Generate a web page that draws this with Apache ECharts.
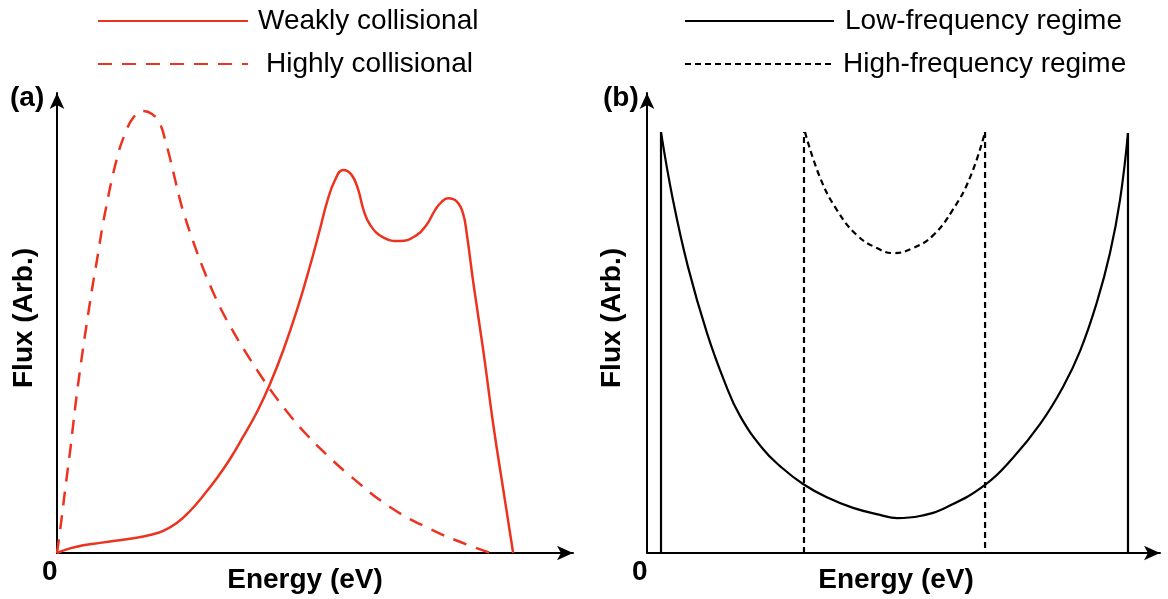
<!DOCTYPE html>
<html><head><meta charset="utf-8">
<script src="https://cdn.jsdelivr.net/npm/echarts@6/dist/echarts.min.js"></script>
<style>html,body{margin:0;padding:0;background:#fff}#c{width:1168px;height:599px}</style>
</head><body><div id="c"></div>
<script>
const FONT = '"Liberation Sans", Arial, Helvetica, sans-serif';
const RED = '#ec3320';

// Panel (a): energy (arb. units) vs flux (arb. units)
const weaklyCollisional = [[0,0],[2.5,1.0],[5.1,1.7],[8.3,2.2],[11.6,2.7],[14.8,3.2],[18.0,3.9],[20.6,4.8],[23.2,6.5],[25.78,9.13],[28.29,12.39],[31.01,16.30],[33.53,20.43],[36.05,25.22],[38.76,30.65],[41.28,36.74],[43.80,43.91],[46.51,52.83],[49.03,62.39],[50.97,70.43],[52.33,76.30],[53.88,81.09],[55.43,83.26],[57.1,82.2],[58.4,78.9],[59.4,74.6],[60.7,71.3],[63.2,68.6],[66.5,67.8],[69.7,69.1],[71.6,71.3],[73.3,74.6],[74.6,76.4],[75.8,77.1],[77.5,76.4],[78.7,73.8],[79.4,69.5],[80.7,58.6],[82.6,44.1],[84.6,27.5],[86.5,13.7],[88.4,0]];
const highlyCollisional = [[0,0],[0.78,6.52],[1.74,15.22],[2.52,21.96],[4.07,36.52],[6.40,54.57],[7.75,63.70],[9.30,73.91],[11.63,85.87],[13.18,91.09],[14.73,94.57],[16.67,96.09],[18.41,95.43],[19.96,93.26],[21.12,89.09],[21.90,85.83],[22.87,81.26],[23.64,77.61],[24.61,73.70],[26.36,67.83],[28.29,61.96],[30.23,56.74],[32.17,52.17],[34.50,47.48],[36.82,43.17],[39.34,38.80],[41.86,34.70],[45.16,29.89],[48.45,25.65],[52.33,21.30],[56.78,16.80],[64.53,10.00],[72.29,5.22],[78.68,2.17],[84.0,0]];

// Panel (b)
const lowFreqCurve = [[2.73,91.5],[5.07,76.7],[7.99,62.2],[11.70,47.8],[15.20,37.0],[18.13,29.8],[22.61,22.6],[25.93,18.9],[30.41,15.0],[35.28,12.0],[40.16,9.8],[45.42,8.3],[48.73,7.6],[53.22,8.04],[58.48,10.0],[65.89,14.8],[71.35,20.7],[76.61,28.0],[81.09,36.1],[84.41,43.9],[87.72,54.6],[90.25,65.2],[92.20,76.7],[93.76,91.3]];
const lowFreqLeftEdge = [[2.73,0],[2.73,91.5]];
const lowFreqRightEdge = [[93.76,91.3],[93.76,0]];
const highFreqCurve = [[30.8,91.5],[33.7,81.7],[37.0,74.6],[40.9,69.1],[44.8,66.3],[48.0,65.2],[51.9,66.3],[55.8,69.1],[59.6,74.6],[63.0,81.7],[65.9,91.5]];
const highFreqLeftEdge = [[30.6,0],[30.6,91.5]];
const highFreqRightEdge = [[65.9,91.5],[65.9,0]];

const X_MAX = 100, Y_MAX = 100;

function axisLine(){
  return {show:true, onZero:false, symbol:['none','arrow'], symbolSize:[11,16],
    lineStyle:{color:'#000', width:2}};
}
function xAx(gi, pad){
  return {type:'value', gridIndex:gi, min:0, max:X_MAX, axisLine:axisLine(), axisTick:{show:false},
    axisLabel:{show:false}, splitLine:{show:false},
    name:'Energy (eV)', nameLocation:'middle', nameGap:13,
    nameTextStyle:{fontFamily:FONT, fontSize:28, fontWeight:'bold', color:'#000', padding:pad}};
}
function yAx(gi, gap){
  return {type:'value', gridIndex:gi, min:0, max:Y_MAX, axisLine:axisLine(), axisTick:{show:false},
    axisLabel:{show:false}, splitLine:{show:false},
    name:'Flux (Arb.)', nameLocation:'middle', nameGap:gap, nameRotate:90,
    nameTextStyle:{fontFamily:FONT, fontSize:28, fontWeight:'bold', color:'#000', padding:[0,0,0,10]}};
}
function line(name, data, xi, color, width, type, smooth){
  return {name:name, type:'line', xAxisIndex:xi, yAxisIndex:xi, data:data, symbol:'none', showSymbol:false,
    smooth:smooth, lineStyle:{color:color, width:width, type:type}, itemStyle:{color:color}, silent:true};
}
function legend(left, w, items){
  return {left:left, top:7, padding:0, orient:'vertical', itemWidth:w, itemHeight:28, itemGap:15,
    itemStyle:{opacity:0}, textStyle:{fontFamily:FONT, fontSize:28, color:'#000'}, data:items};
}

const chart = echarts.init(document.getElementById('c'), null, {renderer:'canvas'});
chart.setOption({
  animation:false,
  backgroundColor:'#fff',
  grid:[
    {left:57, top:93, width:516, height:460, containLabel:false, outerBoundsMode:'none'},
    {left:647, top:93, width:513, height:460, containLabel:false, outerBoundsMode:'none'}
  ],
  xAxis:[xAx(0,[0,20,0,0]), xAx(1,[0,15,0,0])],
  yAxis:[yAx(0,19), yAx(1,21)],
  legend:[
    legend(97, 150, [{name:'Weakly collisional', textStyle:{padding:[0,0,0,5]}},
                     {name:'Highly collisional', textStyle:{padding:[0,0,0,13]}}]),
    legend(684, 149, [{name:'Low-frequency regime', textStyle:{padding:[0,0,0,6]}},
                      {name:'High-frequency regime', textStyle:{padding:[0,0,0,4]}}])
  ],
  series:[
    line('Weakly collisional', weaklyCollisional, 0, RED, 2.5, 'solid', 0.45),
    line('Highly collisional', highlyCollisional, 0, RED, 2.5, [14,10], 0.45),
    line('Low-frequency regime', lowFreqCurve, 1, '#000', 2.2, 'solid', 0.45),
    line('lf-left', lowFreqLeftEdge, 1, '#000', 2.2, 'solid', false),
    line('lf-right', lowFreqRightEdge, 1, '#000', 2.2, 'solid', false),
    line('High-frequency regime', highFreqCurve, 1, '#000', 2.2, [6,4], 0.45),
    line('hf-left', highFreqLeftEdge, 1, '#000', 2.2, [6,4], false),
    line('hf-right', highFreqRightEdge, 1, '#000', 2.2, [6,4], false)
  ],
  graphic:[
    {type:'text', left:10, top:84, style:{text:'(a)', font:'bold 28px '+FONT, fill:'#000'}},
    {type:'text', left:603, top:84, style:{text:'(b)', font:'bold 28px '+FONT, fill:'#000'}},
    {type:'text', left:42, top:558, style:{text:'0', font:'bold 28px '+FONT, fill:'#000'}},
    {type:'text', left:632, top:558, style:{text:'0', font:'bold 28px '+FONT, fill:'#000'}}
  ]
});
</script></body></html>
